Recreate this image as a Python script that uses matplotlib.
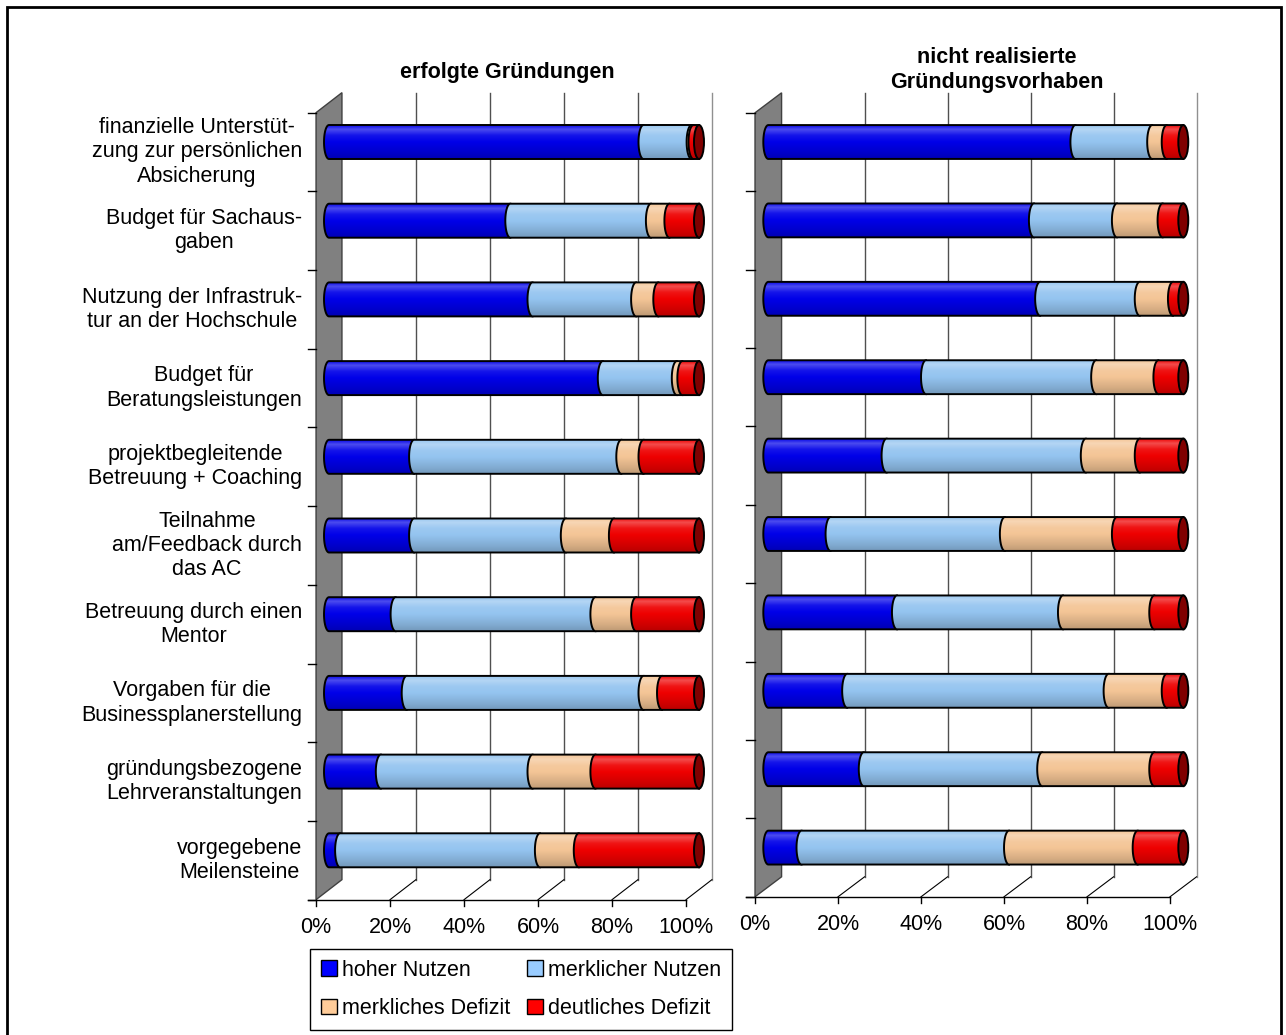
import numpy as np
import matplotlib
matplotlib.use('Agg')
import matplotlib.pyplot as plt
from matplotlib.path import Path
from matplotlib.patches import PathPatch, Ellipse, Polygon, Rectangle
from matplotlib.colors import to_rgb

plt.rcParams['font.family'] = ['Liberation Sans', 'DejaVu Sans']
plt.rcParams['font.size'] = 15.5

# --- data (percent shares per category) ---
categories = ['finanzielle Unterstüt-\nzung zur persönlichen\nAbsicherung',
              'Budget für Sachaus-\ngaben',
              'Nutzung der Infrastruk-\ntur an der Hochschule',
              'Budget für\nBeratungsleistungen',
              'projektbegleitende\nBetreuung + Coaching',
              'Teilnahme\nam/Feedback durch\ndas AC',
              'Betreuung durch einen\nMentor',
              'Vorgaben für die\nBusinessplanerstellung',
              'gründungsbezogene\nLehrveranstaltungen',
              'vorgegebene\nMeilensteine']
series = ['hoher Nutzen', 'merklicher Nutzen', 'merkliches Defizit', 'deutliches Defizit']

erfolgt_hoch = [85, 49, 55, 74, 23, 23, 18, 21, 14, 3]
erfolgt_merklich = [13, 38, 28, 20, 56, 41, 54, 64, 41, 54]
erfolgt_defizit = [0.5, 5, 6, 1.5, 6, 13, 11, 5, 17, 10.5]
erfolgt_deutlich = [1.5, 8, 11, 4.5, 15, 23, 17, 10, 28, 32.5]

nicht_hoch = [74, 64, 65.5, 38, 28.5, 15, 31, 19, 23, 8]
nicht_merklich = [18.5, 20, 24, 41, 48, 42, 40, 63, 43, 50]
nicht_defizit = [3.5, 11, 8, 15, 13, 27, 22, 14, 27, 31]
nicht_deutlich = [4, 5, 2.5, 6, 10.5, 16, 7, 4, 7, 11]

ticks = [0, 20, 40, 60, 80, 100]

body_colors = ['#0000E8', '#94C4F0', '#F4C596', '#EE0000']
legend_colors = ['#0000FF', '#99CCFF', '#FFCC99', '#FF0000']
cap_color = '#800000'

W, H = 1286, 1035
fig = plt.figure(figsize=(W / 100, H / 100), dpi=100)


def px_axes(x0, x1, y0, y1):
    return fig.add_axes([x0 / W, 1 - y1 / H, (x1 - x0) / W, (y1 - y0) / H])


def gradient(color):
    c = np.array(to_rgb(color))
    t = np.linspace(0, 1, 64)
    s = np.interp(t, [0, .12, .3, .55, .8, 1], [0.05, .3, .08, -0.02, -0.12, -0.22])
    out = np.where(s[:, None] > 0, c + (1 - c) * s[:, None], c * (1 + s[:, None]))
    return np.clip(out, 0, 1)[:, None, :]


def seg_points(x0, x1, yc, h, a):
    th = np.linspace(np.pi / 2, 3 * np.pi / 2, 40)
    xs = np.concatenate([[x1], x0 + a * np.cos(th), [x1]])
    ys = np.concatenate([[yc - h], yc - h * np.sin(th), [yc + h]])
    return xs, ys


def draw_panel(ax, rows, dx, dy, a, px_per_row):
    n = len(categories)
    h = 0.216
    top, bot = -0.5, n - 0.5
    tl = 2.2
    # back wall
    wall = Polygon([(-dx, top + dy), (dx, top - dy), (dx, bot - dy), (-dx, bot + dy)],
                   closed=True, fc='#808080', ec='#404040', lw=1, zorder=1)
    ax.add_patch(wall)
    # gridlines on back plane + floor diagonals
    for v in ticks[1:]:
        ax.plot([v + dx, v + dx], [top - dy, bot - dy],
                color='#909090' if v == 100 else '#505050', lw=1, zorder=1)
        ax.plot([v - dx, v + dx], [bot + dy, bot + dy - 2 * dy], color='k', lw=0.8, zorder=1)
    # floor front edge and ticks
    ax.plot([-dx - tl, 100 - dx], [bot + dy, bot + dy], color='k', lw=1, zorder=2)
    for v in ticks:
        ax.plot([v - dx, v - dx], [bot + dy, bot + dy + 6 / px_per_row], color='k', lw=1, zorder=2)
        ax.text(v - dx, bot + dy + 28 / px_per_row, f'{v}%', ha='center', va='center')
    # category ticks on wall front edge
    for k in range(n + 1):
        yb = k - 0.5 + dy
        ax.plot([-dx - tl, -dx], [yb, yb], color='k', lw=1, zorder=2)
    # bars as cylinders
    for i in range(n):
        left = 0.0
        for j, vals in enumerate(rows):
            w = vals[i]
            x0, x1 = left, left + w
            z = 3 + j * 0.1
            xs, ys = seg_points(x0, x1, i, h, a)
            clip = PathPatch(Path(np.column_stack([xs, ys])), fc='none', ec='none', zorder=z)
            ax.add_patch(clip)
            im = ax.imshow(gradient(body_colors[j]), extent=(x0 - a, x1, i + h, i - h),
                           aspect='auto', origin='upper', interpolation='bilinear', zorder=z)
            im.set_clip_path(clip)
            ax.plot(xs, ys, color='k', lw=1.4, zorder=z + 0.01)
            left = x1
        ax.add_patch(Ellipse((left, i), 2 * a, 2 * h, fc=cap_color, ec='k', lw=1.4, zorder=4))


# left panel: mid-plane 0% at x=329 px, 3.7 px per %, rows start at y=142 px, 78.7 px apart
axL = px_axes(329 - 8 * 3.7, 329 + 106 * 3.7, 85, 915)
draw_panel(axL, [erfolgt_hoch, erfolgt_merklich, erfolgt_defizit, erfolgt_deutlich],
           3.5, 10 / 78.7, 1.35, 78.7)
axL.set_xlim(-8, 106)
axL.set_ylim((915 - 142) / 78.7, (85 - 142) / 78.7)
axL.set_axis_off()
for i, lab in enumerate(categories):
    axL.text(-7.3, i + 10 / 78.7, lab, ha='right', va='center', multialignment='center',
             linespacing=1.2)

# right panel: mid-plane 0% at x=768.3 px, 4.15 px per %, rows 78.4 px apart
axR = px_axes(768.3 - 8 * 4.15, 768.3 + 106 * 4.15, 85, 915)
draw_panel(axR, [nicht_hoch, nicht_merklich, nicht_defizit, nicht_deutlich],
           3.2, 10 / 78.4, 1.2, 78.4)
axR.set_xlim(-8, 106)
axR.set_ylim((915 - 142) / 78.4, (85 - 142) / 78.4)
axR.set_axis_off()

fig.text(507.5 / W, 1 - 72.7 / H, 'erfolgte Gründungen', ha='center', va='center',
         fontweight='bold')
fig.text(997 / W, 1 - 70 / H, 'nicht realisierte\nGründungsvorhaben', ha='center', va='center',
         fontweight='bold', linespacing=1.2)

# legend is filled column by column, so reorder to get row-wise reading order
order = [0, 2, 1, 3]
handles = [Rectangle((0, 0), 1, 1, fc=legend_colors[k], ec='k', lw=1) for k in order]
fig.legend(handles, [series[k] for k in order], ncol=2, loc='upper left',
           bbox_to_anchor=(310 / W, 1 - 949 / H),
           borderaxespad=0, frameon=True, fancybox=False, edgecolor='k', framealpha=1,
           handlelength=0.75, handleheight=0.75, handletextpad=0.25, columnspacing=0.75,
           borderpad=0.5, labelspacing=0.8)

fig.patches.append(Rectangle((7 / W, -0.01), (1281 - 7) / W, 1 - 7 / H + 0.01,
                             transform=fig.transFigure, fill=False, ec='k', lw=2))

fig.savefig('out.png', dpi=100)
